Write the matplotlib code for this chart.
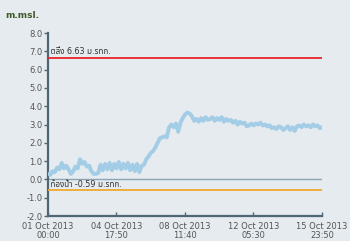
import numpy as np
import matplotlib
matplotlib.use('Agg')
from matplotlib import pyplot as plt
import matplotlib.dates as mdates

# water level every 3 hours from 01 Oct 2013 00:00 (m.msl.)
start = np.datetime64('2013-10-01T00:00')
levels = [0.30, 0.25, 0.45, 0.40, 0.65,
          0.55, 0.90, 0.60, 0.75, 0.55,
          0.30, 0.45, 0.70, 0.60, 1.10,
          0.85, 0.95, 0.70, 0.75, 0.45,
          0.30, 0.30, 0.35, 0.80, 0.50,
          0.85, 0.55, 0.90, 0.50, 0.85,
          0.60, 0.95, 0.55, 0.85, 0.60,
          0.90, 0.50, 0.80, 0.45, 0.85,
          0.40, 0.75, 0.80, 1.10, 1.25,
          1.45, 1.55, 1.75, 2.00, 2.25,
          2.30, 2.35, 2.30, 2.85, 3.00,
          2.85, 3.05, 2.60, 3.10, 3.35,
          3.55, 3.65, 3.60, 3.45, 3.20,
          3.30, 3.15, 3.35, 3.20, 3.40,
          3.25, 3.30, 3.40, 3.20, 3.35,
          3.25, 3.40, 3.15, 3.30, 3.20,
          3.25, 3.10, 3.20, 3.00, 3.15,
          3.05, 3.10, 2.90, 2.95, 3.05,
          2.95, 3.05, 3.00, 3.10, 2.95,
          3.00, 2.90, 2.95, 2.80, 2.85,
          2.75, 2.90, 2.85, 2.70, 2.80,
          2.90, 2.70, 2.85, 2.65, 2.90,
          2.95, 2.85, 3.00, 2.90, 2.95,
          2.85, 3.00, 2.90, 2.95, 2.80,
          2.85]
end = np.datetime64('2013-10-15T23:50')
times = [start + np.timedelta64(3 * i, 'h') for i in range(len(levels) - 1)] + [end]
times = np.array(times).astype('datetime64[m]').astype('O')

bank = 6.63
bed = -0.59
tick_times = ['2013-10-01T00:00', '2013-10-04T17:50', '2013-10-08T11:40',
              '2013-10-12T05:30', '2013-10-15T23:50']
yticks = [8.0, 7.0, 6.0, 5.0, 4.0, 3.0, 2.0, 1.0, 0.0, -1.0, -2.0]

plt.rcParams['font.family'] = ['DejaVu Sans', 'Noto Sans Thai', 'Sarabun', 'Bai Jamjuree']
fig = plt.figure(figsize=(3.5, 2.41), dpi=100)
fig.patch.set_facecolor('#e5ebee')
ax = fig.add_axes([48/350, 1-216/241, 274/350, 183/241])
ax.set_facecolor('#e5ebee')

t0, t1 = times[0], times[-1]
ax.plot([t0, t1], [0, 0], color='#8ba4b6', lw=1.0, zorder=2)
ax.plot(times, levels, color='#a3cde6', lw=2.8, zorder=3, solid_joinstyle='round')
ax.plot([t0, t1], [bank, bank], color='#e8262b', lw=1.3, zorder=4)
ax.plot([t0, t1], [bed, bed], color='#f0a830', lw=1.3, zorder=4)

ax.text(t0, bank + 0.12, ' ตลิ่ง %.2f ม.รทก.' % bank, fontsize=5.8, color='#333333', va='bottom', ha='left')
ax.text(t0, -0.05, ' ท้องน้ำ %.2f ม.รทก.' % bed, fontsize=5.8, color='#333333', va='top', ha='left')

ax.set_xlim(t0, t1)
ax.set_ylim(-2, 8)
ax.set_yticks(yticks)
ax.set_yticklabels(['%.1f' % v for v in yticks])
ax.set_xticks([np.datetime64(s).astype('O') for s in tick_times])
ax.xaxis.set_major_formatter(mdates.DateFormatter('%d %b %Y\n%H:%M'))
for lbl in ax.get_xticklabels():
    lbl.set_linespacing(1.1)

for s in ['top', 'right']:
    ax.spines[s].set_visible(False)
for s in ['left', 'bottom']:
    ax.spines[s].set_color('#4f6676')
    ax.spines[s].set_linewidth(1.6)
ax.tick_params(axis='y', direction='out', length=3, width=1, color='#4f6676', labelsize=6, labelcolor='#555555', pad=1)
ax.tick_params(axis='x', direction='in', length=3, width=1, color='#4f6676', labelsize=6, labelcolor='#555555', pad=4)

fig.text(5/350, 1-15/241, 'm.msl.', fontsize=6.5, fontweight='bold', color='#3f5a2c', va='center')

fig.savefig('out.png', dpi=100, facecolor=fig.get_facecolor())
